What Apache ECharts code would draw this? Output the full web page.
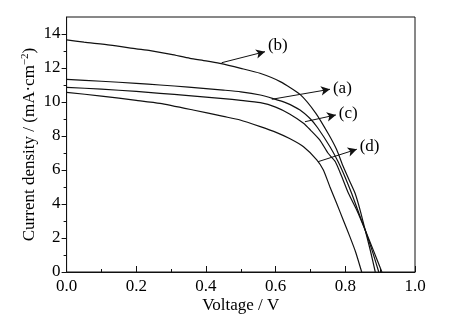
<!DOCTYPE html>
<html>
<head>
<meta charset="utf-8">
<script src="https://cdn.jsdelivr.net/npm/echarts@6/dist/echarts.min.js"></script>
<style>
  html, body { margin: 0; padding: 0; background: #fff; }
  #chart { width: 456px; height: 328px; }
</style>
</head>
<body>
<div id="chart"></div>
<script>
// J–V curves: [voltage (V), current density (mA·cm^-2)]
const curveA = [[0,11.33],[0.1,11.22],[0.2,11.1],[0.268,11.0],[0.35,10.88],[0.45,10.7],[0.5,10.6],[0.556,10.41],[0.593,10.2],[0.63,9.95],[0.67,9.53],[0.7,9.0],[0.72,8.5],[0.756,7.37],[0.779,6.5],[0.8,5.55],[0.818,4.63],[0.84,3.4],[0.857,2.47],[0.878,1.2],[0.896,0]];
const curveB = [[0,13.65],[0.05,13.52],[0.125,13.35],[0.2,13.13],[0.24,13.02],[0.3,12.8],[0.354,12.57],[0.4,12.42],[0.44,12.27],[0.5,11.98],[0.555,11.69],[0.613,11.2],[0.67,10.45],[0.715,9.35],[0.752,8.1],[0.775,7.2],[0.794,6.2],[0.81,5.45],[0.828,4.63],[0.843,3.6],[0.857,2.47],[0.872,1.25],[0.886,0]];
const curveC = [[0,10.86],[0.1,10.76],[0.2,10.62],[0.268,10.51],[0.35,10.38],[0.45,10.2],[0.5,10.1],[0.556,9.96],[0.6,9.7],[0.64,9.3],[0.68,8.75],[0.7,8.35],[0.727,7.76],[0.75,7.0],[0.771,6.5],[0.79,5.6],[0.809,4.63],[0.835,3.55],[0.857,2.47],[0.88,1.3],[0.905,0]];
const curveD = [[0,10.57],[0.1,10.35],[0.2,10.1],[0.268,9.92],[0.363,9.53],[0.45,9.15],[0.498,8.94],[0.556,8.55],[0.603,8.2],[0.64,7.85],[0.68,7.37],[0.718,6.6],[0.737,6.0],[0.755,5.05],[0.775,4.04],[0.794,3.06],[0.813,2.08],[0.83,1.15],[0.847,0]];

// Tick values
const xTicks = [0, 0.2, 0.4, 0.6, 0.8, 1.0];
const yMajorTicks = [0, 2, 4, 6, 8, 10, 12, 14];
const yMinorTicks = [1, 3, 5, 7, 9, 11, 13];

// Curve labels with leader arrows (start on curve -> arrow head)
const labelNames = ['(a)', '(b)', '(c)', '(d)'];
const arrowStart = [[0.589, 10.16], [0.445, 12.31], [0.684, 8.84], [0.722, 6.49]];
const arrowEnd = [[0.756, 10.75], [0.5695, 12.96], [0.773, 9.24], [0.833, 7.22]];
const labelShift = [[0, 0], [0, -5], [0, -1], [0, -2]];

const FONT = 'Liberation Serif, Times New Roman, serif';
const INK = '#111';

const chart = echarts.init(document.getElementById('chart'), null, { renderer: 'canvas' });

function makeSeries(name, data, idx) {
  return {
    name: name,
    type: 'line',
    data: data,
    xAxisIndex: 0,
    yAxisIndex: 0,
    showSymbol: false,
    smooth: 0.2,
    lineStyle: { color: INK, width: 1.2 },
    animation: false,
    markLine: {
      silent: true,
      animation: false,
      symbol: ['none', 'arrow'],
      symbolSize: [7, 9],
      lineStyle: { color: INK, width: 1, type: 'solid' },
      label: {
        show: true,
        position: 'end',
        formatter: labelNames[idx],
        fontFamily: FONT,
        fontSize: 17,
        color: '#000',
        distance: 3,
        offset: labelShift[idx]
      },
      data: [[{ coord: arrowStart[idx] }, { coord: arrowEnd[idx] }]]
    }
  };
}

const option = {
  backgroundColor: '#fff',
  animation: false,
  grid: {
    left: 66.6, right: 41, top: 17, bottom: 56,
    show: true, borderColor: INK, borderWidth: 1, backgroundColor: 'transparent'
  },
  xAxis: [{
    type: 'value',
    min: 0, max: 1.0, interval: 0.2,
    name: 'Voltage / V',
    nameLocation: 'middle',
    nameGap: 25,
    nameMoveOverlap: false,
    nameTextStyle: { fontFamily: FONT, fontSize: 17, color: '#000' },
    axisLine: { show: true, lineStyle: { color: INK, width: 1 } },
    axisTick: { show: true, inside: true, length: 6, lineStyle: { color: INK } },
    minorTick: { show: true, splitNumber: 2, length: 3, lineStyle: { color: INK } },
    splitLine: { show: false },
    axisLabel: {
      fontFamily: FONT, fontSize: 17, color: '#000', margin: 6,
      customValues: xTicks,
      formatter: v => v.toFixed(1)
    }
  }],
  yAxis: [{
    type: 'value',
    min: 0, max: 15,
    name: 'Current density / (mA·cm{sup|−2})',
    nameLocation: 'middle',
    nameGap: 28,
    nameMoveOverlap: false,
    nameTextStyle: {
      fontFamily: FONT, fontSize: 17, color: '#000',
      rich: { sup: { fontFamily: FONT, fontSize: 11, color: '#000', verticalAlign: 'top', padding: [0, 0, 8, 0] } }
    },
    axisLine: { show: true, lineStyle: { color: INK, width: 1 } },
    axisTick: { show: true, inside: false, length: 5, customValues: yMajorTicks, lineStyle: { color: INK } },
    splitLine: { show: false },
    axisLabel: {
      fontFamily: FONT, fontSize: 17, color: '#000', margin: 6,
      customValues: yMajorTicks
    }
  }, {
    type: 'value',
    position: 'left',
    min: 0, max: 15,
    axisLine: { show: false },
    axisTick: { show: true, inside: false, length: 3, customValues: yMinorTicks, lineStyle: { color: INK } },
    axisLabel: { show: false },
    splitLine: { show: false }
  }],
  series: [
    makeSeries('a', curveA, 0),
    makeSeries('b', curveB, 1),
    makeSeries('c', curveC, 2),
    makeSeries('d', curveD, 3)
  ]
};

chart.setOption(option);
</script>
</body>
</html>
